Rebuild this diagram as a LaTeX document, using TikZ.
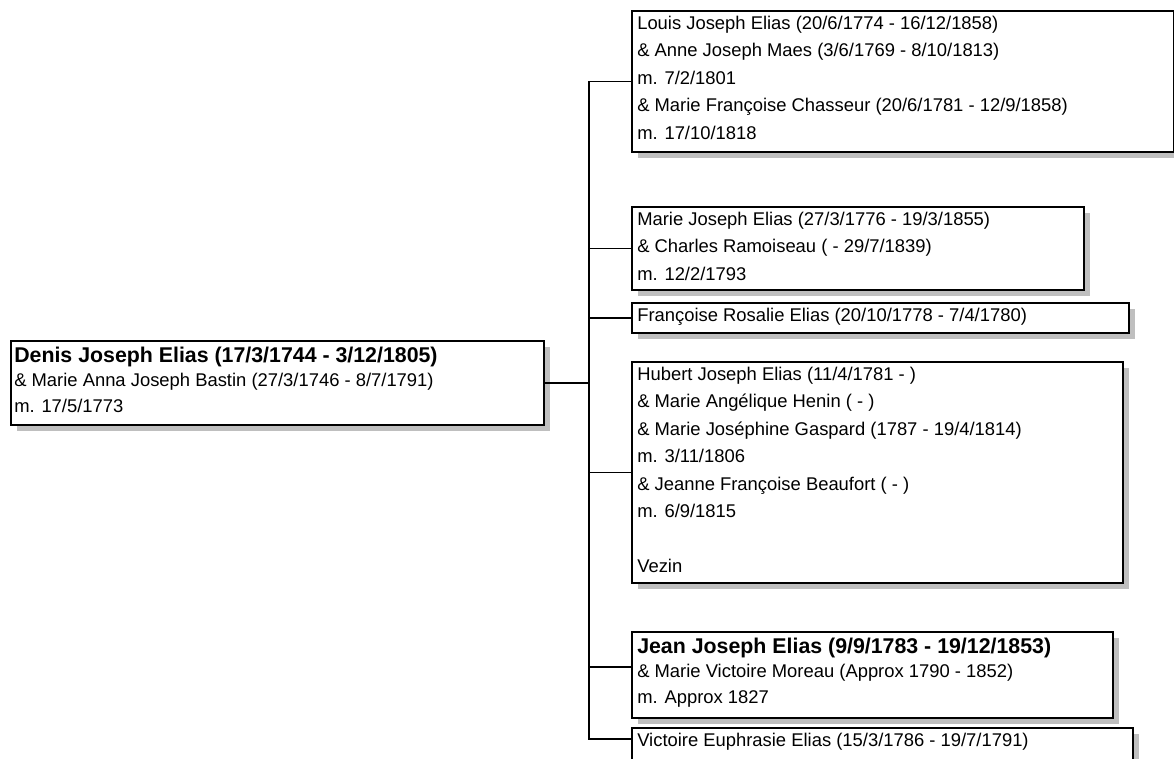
\documentclass[tikz,border=0pt]{standalone}
\usepackage{fontspec}
\setmainfont{Liberation Sans}
\usetikzlibrary{shadows,calc}
\begin{document}
\begin{tikzpicture}[x=0.75pt,y=-0.75pt,
  box/.style={draw=black, line width=1.4pt, fill=white, rectangle, anchor=north west, inner sep=0pt,
    general shadow={fill=black!25, shadow xshift=4.5pt, shadow yshift=-4.5pt}},
  boxsize/.style 2 args={minimum width={#1*0.75pt}, minimum height={#2*0.75pt}},
  txt/.style={anchor=base west, inner sep=0pt, font=\fontsize{13.8}{16}\selectfont},
  btxt/.style={anchor=base west, inner sep=0pt, font=\fontsize{16}{19}\selectfont\bfseries},
  conn/.style={line width=1.15pt},
  rootconn/.style={line width=1.6pt},
]
\useasboundingbox (0,0) rectangle (1174,758);

% boxes
\node[box, boxsize={533}{84}]  (root) at (10,340) {};
\node[box, boxsize={542}{141}] (b1) at (631,10) {};
\node[box, boxsize={452}{83}]  (b2) at (631,206) {};
\node[box, boxsize={497}{30}]  (b3) at (631,302) {};
\node[box, boxsize={491}{221}] (b4) at (631,361) {};
\node[box, boxsize={481}{86}]  (b5) at (631,631) {};
\node[box, boxsize={501}{40}]  (b6) at (631,727) {};

% root text
\node[btxt] (rt1) at ($(root.north west)+(4,22)$) {Denis Joseph Elias (17/3/1744 - 3/12/1805)};
\node[txt]  (rt2) at ($(root.north west)+(4,46)$) {\& Marie Anna Joseph Bastin (27/3/1746 - 8/7/1791)};
\node[txt]  (rt3) at ($(root.north west)+(4,72)$) {m. 17/5/1773};

% box 1
\foreach \t [count=\i] in {{Louis Joseph Elias (20/6/1774 - 16/12/1858)},
  {\& Anne Joseph Maes (3/6/1769 - 8/10/1813)},
  {m. 7/2/1801},
  {\& Marie Françoise Chasseur (20/6/1781 - 12/9/1858)},
  {m. 17/10/1818}}
  \node[txt] (b1t\i) at ($(b1.north west)+(6,{19+27.5*(\i-1)})$) {\t};

% box 2
\foreach \t [count=\i] in {{Marie Joseph Elias (27/3/1776 - 19/3/1855)},
  {\& Charles Ramoiseau ( - 29/7/1839)},
  {m. 12/2/1793}}
  \node[txt] (b2t\i) at ($(b2.north west)+(6,{19+27.5*(\i-1)})$) {\t};

% box 3
\node[txt] (b3t1) at ($(b3.north west)+(6,19)$) {Françoise Rosalie Elias (20/10/1778 - 7/4/1780)};

% box 4
\foreach \t [count=\i] in {{Hubert Joseph Elias (11/4/1781 - )},
  {\& Marie Angélique Henin ( - )},
  {\& Marie Joséphine Gaspard (1787 - 19/4/1814)},
  {m. 3/11/1806},
  {\& Jeanne Françoise Beaufort ( - )},
  {m. 6/9/1815}}
  \node[txt] (b4t\i) at ($(b4.north west)+(6,{19+27.5*(\i-1)})$) {\t};
\node[txt] (b4t8) at ($(b4.north west)+(6,{19+27.5*7})$) {Vezin};

% box 5
\node[btxt] (b5t1) at ($(b5.north west)+(6,22)$) {Jean Joseph Elias (9/9/1783 - 19/12/1853)};
\node[txt]  (b5t2) at ($(b5.north west)+(6,46)$) {\& Marie Victoire Moreau (Approx 1790 - 1852)};
\node[txt]  (b5t3) at ($(b5.north west)+(6,72)$) {m. Approx 1827};

% box 6
\node[txt] (b6t1) at ($(b6.north west)+(6,19)$) {Victoire Euphrasie Elias (15/3/1786 - 19/7/1791)};

% connectors
\coordinate (busx) at (589,0);
\coordinate (c5) at ($(b5.north west)+(0,36)$);
\coordinate (c6) at ($(b6.north west)+(0,12)$);
\draw[rootconn] (root.east) -- (root.east -| busx);
\draw[conn, line join=miter] (b1.west) -- (b1.west -| busx) -- (c6 -| busx) -- (c6);
\draw[conn] (b2.west -| busx) -- (b2.west);
\draw[conn] (b3.west -| busx) -- (b3.west);
\draw[conn] (b4.west -| busx) -- (b4.west);
\draw[conn] (c5 -| busx) -- (c5);
\end{tikzpicture}
\end{document}
